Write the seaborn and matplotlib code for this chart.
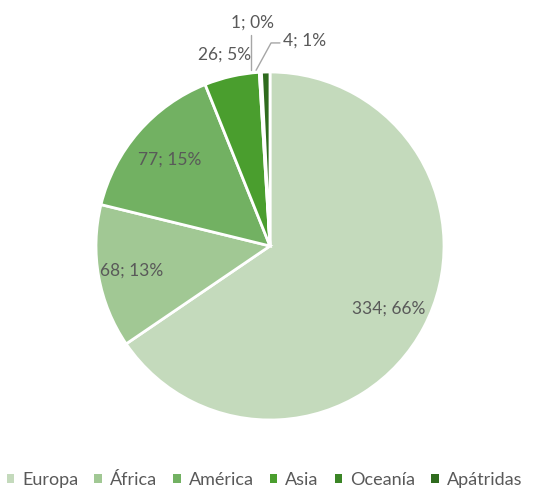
import matplotlib
matplotlib.use("Agg")
import matplotlib.pyplot as plt
import seaborn as sns
import numpy as np

categories = ["Europa", "África", "América", "Asia", "Oceanía", "Apátridas"]
values = [334, 68, 77, 26, 1, 4]
percents = ["66%", "13%", "15%", "5%", "0%", "1%"]
colors = ["#C4DABC", "#A1C894", "#72B162", "#4A9E2E", "#3B8526", "#2F6B1E"]

sns.set_theme(style="white")
plt.rcParams["font.family"] = ["Lato", "DejaVu Sans"]
TXT = "#595959"

fig = plt.figure(figsize=(5.43, 4.88), dpi=100)
cx, cy, r = 270, 246, 174
W, H = 543, 488
ax = fig.add_axes([(cx - r) / W, (H - cy - r) / H, 2 * r / W, 2 * r / H])

wedges, _ = ax.pie(values, colors=colors, startangle=90, counterclock=False,
                   radius=1.0, wedgeprops=dict(edgecolor="white", linewidth=2))
ax.set_xlim(-1, 1)
ax.set_ylim(-1, 1)
ax.set_aspect("equal")
ax.axis("off")

labels = [f"{v}; {p}" for v, p in zip(values, percents)]
fs = 12.5

# inside labels for large slices
for i in range(3):
    w = wedges[i]
    ang = np.deg2rad((w.theta1 + w.theta2) / 2)
    d = [0.77, 0.81, 0.76][i]
    ax.text(d * np.cos(ang), d * np.sin(ang), labels[i], ha="center", va="center",
            fontsize=fs, color=TXT)

# Asia: outside, no leader
ax.text(-0.26, 1.10, labels[3], ha="center", va="center", fontsize=fs, color=TXT,
        clip_on=False)

# Oceanía with vertical leader
ax.plot([-0.11, -0.11], [1.01, 1.21], color="#A6A6A6", lw=1, clip_on=False)
ax.text(-0.10, 1.285, labels[4], ha="center", va="center", fontsize=fs, color=TXT,
        clip_on=False)

# Apátridas with elbow leader
ax.plot([-0.08, 0.006, 0.057], [1.01, 1.167, 1.167], color="#A6A6A6", lw=1, clip_on=False)
ax.text(0.075, 1.18, labels[5], ha="left", va="center", fontsize=fs, color=TXT,
        clip_on=False)

leg = fig.legend(wedges, categories, loc="center", bbox_to_anchor=(0.487, 1 - 480 / H),
                 ncol=6, frameon=False, fontsize=13, handlelength=0.42, handleheight=0.42,
                 handletextpad=0.45, columnspacing=0.88, borderpad=0.1, borderaxespad=0,
                 labelcolor=TXT)
for h in leg.legend_handles:
    h.set_edgecolor("none")

fig.savefig("out.png", dpi=100)
